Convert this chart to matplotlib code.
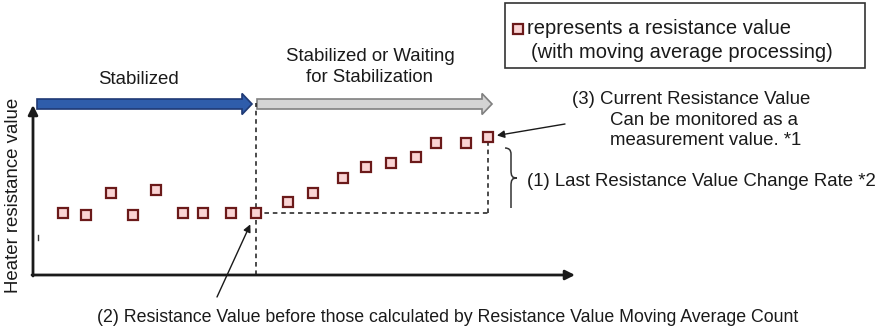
import matplotlib.pyplot as plt
from matplotlib.patches import FancyArrow, Rectangle, PathPatch
from matplotlib.path import Path

plt.rcParams['font.family'] = ['Liberation Sans', 'DejaVu Sans']

# sample index and moving-average resistance (arbitrary units)
sample = [1.2, 2.1, 3.1, 4.0, 4.9, 6.0, 6.8, 7.9, 8.9,
          10.2, 11.2, 12.4, 13.3, 14.3, 15.3, 16.1, 17.3, 18.2]
resistance = [6.2, 6.0, 8.2, 6.0, 8.5, 6.2, 6.2, 6.2, 6.2,
              7.3, 8.2, 9.7, 10.8, 11.2, 11.8, 13.2, 13.2, 13.8]
i_ref = 8  # value before the moving-average window

FS = 13.4
INK = "#1a1a1a"
marker_style = dict(marker="s", markersize=7, markerfacecolor="#fad4d4",
                    markeredgecolor="#6b1a1a", markeredgewidth=1.6, linestyle="none")

fig = plt.figure(figsize=(8.8, 3.31), dpi=100)

# canvas in pixel units (origin top-left) for text and decorations
ax = fig.add_axes([0, 0, 1, 1])
ax.set_xlim(0, 880)
ax.set_ylim(331, 0)
ax.axis("off")

# data axes sitting on the drawn axis lines
dax = fig.add_axes([33 / 880, 56 / 331, 542 / 880, 170 / 331])
dax.set_xlim(0, 21.68)
dax.set_ylim(0, 17)
dax.axis("off")
dax.patch.set_alpha(0)

# axis arrows
ax.annotate("", xy=(33, 105), xytext=(33, 276),
            arrowprops=dict(arrowstyle="-|>", lw=2, color=INK, mutation_scale=14,
                            shrinkA=0, shrinkB=0))
ax.annotate("", xy=(575, 275), xytext=(32, 275),
            arrowprops=dict(arrowstyle="-|>", lw=2, color=INK, mutation_scale=14,
                            shrinkA=0, shrinkB=0))
ax.plot([38, 38], [235, 240], color="#333333", lw=1)
ax.text(14, 195, "Heater resistance value", rotation=90, ha="center", va="center",
        fontsize=FS, color=INK)

# phase arrows
ax.add_patch(FancyArrow(37, 104, 215, 0, width=10, head_width=21, head_length=10,
                        length_includes_head=True, facecolor="#2f5dab", edgecolor="#1f3a75", lw=1.2))
ax.add_patch(FancyArrow(257, 104, 235, 0, width=10, head_width=21, head_length=10,
                        length_includes_head=True, facecolor="#d4d4d4", edgecolor="#808080", lw=1.2))
ax.text(138, 80, "Stabilized", ha="center", va="center", fontsize=FS, color=INK)
ax.text(370, 67, "Stabilized or Waiting\nfor Stabilization", ha="center", va="center",
        fontsize=FS, color=INK, linespacing=1.25)

# dashed guides
dash = dict(color=INK, lw=1.1, linestyle=(0, (3, 2.5)), clip_on=False)
dax.plot([sample[i_ref], sample[i_ref]], [0, 17.2], **dash)
dax.plot([sample[i_ref], sample[-1]], [resistance[i_ref], resistance[i_ref]], **dash)
dax.plot([sample[-1], sample[-1]], [resistance[i_ref], resistance[-1]], **dash)

# resistance points
dax.plot(sample, resistance, clip_on=False, zorder=5, **marker_style)

# brace for change rate
bx, top, bot, tip = 505, 148, 208, 178
verts = [(bx, top), (bx + 6, top), (bx + 6, top + 6), (bx + 6, tip - 8),
         (bx + 6, tip - 2), (bx + 7, tip), (bx + 12, tip),
         (bx + 7, tip), (bx + 6, tip + 2), (bx + 6, tip + 8),
         (bx + 6, bot - 6), (bx + 6, bot)]
codes = [Path.MOVETO, Path.CURVE3, Path.CURVE3, Path.LINETO,
         Path.CURVE4, Path.CURVE4, Path.CURVE4,
         Path.CURVE4, Path.CURVE4, Path.CURVE4,
         Path.CURVE3, Path.CURVE3]
ax.add_patch(PathPatch(Path(verts, codes), facecolor="none", edgecolor="#333333", lw=1.1))
ax.text(527, 182, "(1) Last Resistance Value Change Rate *2", ha="left", va="center",
        fontsize=FS, color=INK)

# callouts
ax.annotate("", xy=(sample[-1], resistance[-1]), xycoords=dax.transData,
            xytext=(565, 124), textcoords=ax.transData,
            arrowprops=dict(arrowstyle="-|>", lw=1, color=INK, mutation_scale=11,
                            shrinkA=0, shrinkB=6.5))
ax.text(572, 100, "(3) Current Resistance Value", ha="left", va="center",
        fontsize=FS, color=INK)
ax.text(610, 130.5, "Can be monitored as a\nmeasurement value. *1", ha="left", va="center",
        fontsize=FS, color=INK, linespacing=1.2)

ax.annotate("", xy=(sample[i_ref], resistance[i_ref]), xycoords=dax.transData,
            xytext=(217, 297), textcoords=ax.transData,
            arrowprops=dict(arrowstyle="-|>", lw=1, color=INK, mutation_scale=11,
                            shrinkA=0, shrinkB=9))
ax.text(448, 318, "(2) Resistance Value before those calculated by Resistance Value Moving Average Count",
        ha="center", va="center", fontsize=12.8, color=INK)

# key box
ax.add_patch(Rectangle((505, 3), 360, 65, facecolor="white", edgecolor="#333333", lw=1.2))
ax.plot([518], [29], **marker_style)
ax.text(527, 29, "represents a resistance value", ha="left", va="center",
        fontsize=14.5, color=INK)
ax.text(531, 53, "(with moving average processing)", ha="left", va="center",
        fontsize=14.5, color=INK)

fig.savefig("out.png", dpi=100)
